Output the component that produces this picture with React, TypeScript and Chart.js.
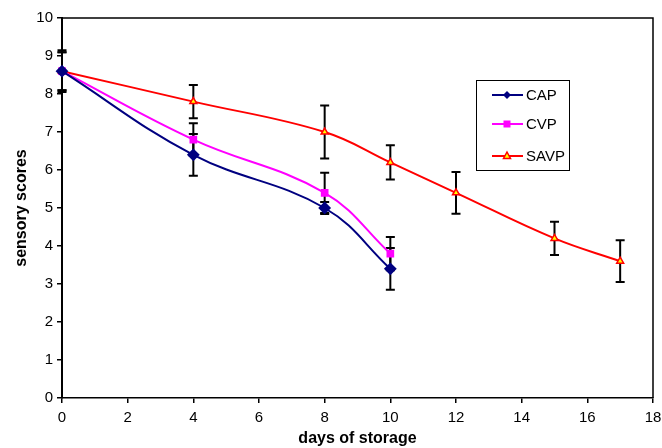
import React, { useEffect, useRef } from "react";
import { Chart, registerables } from "chart.js";
Chart.register(...registerables);

const capDays = [0, 4, 8, 10];
const capScores = [8.6, 6.4, 5.0, 3.4];
const capErr = [0.5, 0.55, 0.16, 0.55];

const cvpDays = [0, 4, 8, 10];
const cvpScores = [8.6, 6.8, 5.4, 3.8];
const cvpErr = [0.5, 0.43, 0.53, 0.44];

const savpDays = [0, 4, 8, 10, 12, 15, 17];
const savpScores = [8.6, 7.8, 7.0, 6.2, 5.4, 4.2, 3.6];
const savpErr = [0.55, 0.44, 0.7, 0.45, 0.55, 0.44, 0.55];

const seriesNames = ["CAP", "CVP", "SAVP"];
const xTitle = "days of storage";
const yTitle = "sensory scores";

const FONT = "'Liberation Sans', Arial, sans-serif";

export default function App() {
  const ref = useRef<HTMLCanvasElement>(null);
  useEffect(() => {
    const toPts = (xs: number[], ys: number[]) => xs.map((x, i) => ({ x, y: ys[i] }));
    const errs = [capErr, cvpErr, savpErr];

    const errorBars = {
      id: "errorBars",
      beforeDatasetsDraw(chart: any) {
        const ctx = chart.ctx;
        const xs = chart.scales.x;
        const ys = chart.scales.y;
        ctx.save();
        ctx.strokeStyle = "#000";
        ctx.lineWidth = 2;
        chart.data.datasets.forEach((ds: any, di: number) => {
          ds.data.forEach((p: any, i: number) => {
            const e = errs[di][i];
            const px = xs.getPixelForValue(p.x);
            const top = ys.getPixelForValue(p.y + e);
            const bot = ys.getPixelForValue(p.y - e);
            ctx.beginPath();
            ctx.moveTo(px, top);
            ctx.lineTo(px, bot);
            ctx.moveTo(px - 4.5, top);
            ctx.lineTo(px + 4.5, top);
            ctx.moveTo(px - 4.5, bot);
            ctx.lineTo(px + 4.5, bot);
            ctx.stroke();
          });
        });
        ctx.restore();
      },
    };

    const frameAndLegend = {
      id: "frameAndLegend",
      afterDraw(chart: any) {
        const ctx = chart.ctx;
        const a = chart.chartArea;
        ctx.save();
        ctx.strokeStyle = "#000";
        ctx.lineWidth = 1.5;
        ctx.beginPath();
        ctx.moveTo(a.left, a.top);
        ctx.lineTo(a.right, a.top);
        ctx.lineTo(a.right, a.bottom);
        ctx.stroke();

        // legend box
        const bx = 476.5, by = 80.5, bw = 93, bh = 90;
        ctx.fillStyle = "#fff";
        ctx.fillRect(bx, by, bw, bh);
        ctx.lineWidth = 1;
        ctx.strokeRect(bx, by, bw, bh);
        const rows = [95, 124, 156];
        chart.data.datasets.forEach((ds: any, i: number) => {
          const y = rows[i];
          ctx.strokeStyle = ds.borderColor;
          ctx.lineWidth = 2;
          ctx.beginPath();
          ctx.moveTo(492, y);
          ctx.lineTo(523, y);
          ctx.stroke();
          const cx = 507;
          ctx.fillStyle = ds.pointBackgroundColor;
          ctx.strokeStyle = ds.pointBorderColor;
          ctx.lineWidth = 1.5;
          ctx.beginPath();
          if (i === 0) {
            ctx.moveTo(cx, y - 4);
            ctx.lineTo(cx + 4, y);
            ctx.lineTo(cx, y + 4);
            ctx.lineTo(cx - 4, y);
            ctx.closePath();
            ctx.fill();
          } else if (i === 1) {
            ctx.rect(cx - 3.5, y - 3.5, 7, 7);
            ctx.fill();
          } else {
            ctx.moveTo(cx, y - 4);
            ctx.lineTo(cx + 3.5, y + 2.5);
            ctx.lineTo(cx - 3.5, y + 2.5);
            ctx.closePath();
            ctx.fill();
            ctx.stroke();
          }
          ctx.fillStyle = "#000";
          ctx.font = "15px " + FONT;
          ctx.textAlign = "left";
          ctx.textBaseline = "middle";
          ctx.fillText(seriesNames[i], 526, y + 1);
        });
        ctx.restore();
      },
    };

    const chart = new Chart(ref.current!, {
      type: "line",
      data: {
        datasets: [
          {
            label: seriesNames[0],
            data: toPts(capDays, capScores),
            borderColor: "#000080",
            backgroundColor: "#000080",
            pointBackgroundColor: "#000080",
            pointBorderColor: "#000080",
            pointStyle: "rectRot",
            pointRadius: 5,
            borderWidth: 2,
            tension: 0.4,
            clip: false,
          },
          {
            label: seriesNames[1],
            data: toPts(cvpDays, cvpScores),
            borderColor: "#FF00FF",
            backgroundColor: "#FF00FF",
            pointBackgroundColor: "#FF00FF",
            pointBorderColor: "#FF00FF",
            pointStyle: "rect",
            pointRadius: 4,
            borderWidth: 2,
            tension: 0.4,
            clip: false,
          },
          {
            label: seriesNames[2],
            data: toPts(savpDays, savpScores),
            borderColor: "#FF0000",
            backgroundColor: "#FFFF00",
            pointBackgroundColor: "#FFFF00",
            pointBorderColor: "#FF0000",
            pointStyle: "triangle",
            pointRadius: 4,
            pointBorderWidth: 1.5,
            borderWidth: 2,
            tension: 0.4,
            clip: false,
          },
        ] as any,
      },
      options: {
        animation: false,
        responsive: false,
        maintainAspectRatio: false,
        layout: { padding: { top: 18, right: 9, left: 0, bottom: 0 } },
        plugins: { legend: { display: false }, tooltip: { enabled: false } },
        scales: {
          x: {
            type: "linear",
            min: 0,
            max: 18,
            ticks: { stepSize: 2, color: "#000", font: { family: FONT, size: 15 }, padding: 6, maxRotation: 0 },
            grid: { drawOnChartArea: false, tickLength: 5, color: "#000", lineWidth: 1.5 },
            border: { color: "#000", width: 1.5 },
            title: { display: true, text: xTitle, color: "#000", font: { family: FONT, size: 16, weight: "bold" }, padding: { top: 0, bottom: 0 } },
            afterFit: (s: any) => { s.height = 50; s.paddingRight = 0; s.paddingLeft = 0; },
          },
          y: {
            type: "linear",
            min: 0,
            max: 10,
            ticks: { stepSize: 1, color: "#000", font: { family: FONT, size: 15 }, padding: 4 },
            grid: { drawOnChartArea: false, tickLength: 5, color: "#000", lineWidth: 1.5 },
            border: { color: "#000", width: 2 },
            title: { display: true, text: yTitle, color: "#000", font: { family: FONT, size: 16, weight: "bold" }, padding: { top: 12, bottom: 0 } },
            afterFit: (s: any) => { s.width = 62; s.paddingTop = 0; s.paddingBottom = 0; },
          },
        },
      },
      plugins: [errorBars, frameAndLegend],
    });
    return () => chart.destroy();
  }, []);
  return (
    <div style={{ position: "fixed", left: 0, top: 0, width: 662, height: 448, background: "#fff" }}>
      <canvas ref={ref} width={662} height={448} />
    </div>
  );
}
